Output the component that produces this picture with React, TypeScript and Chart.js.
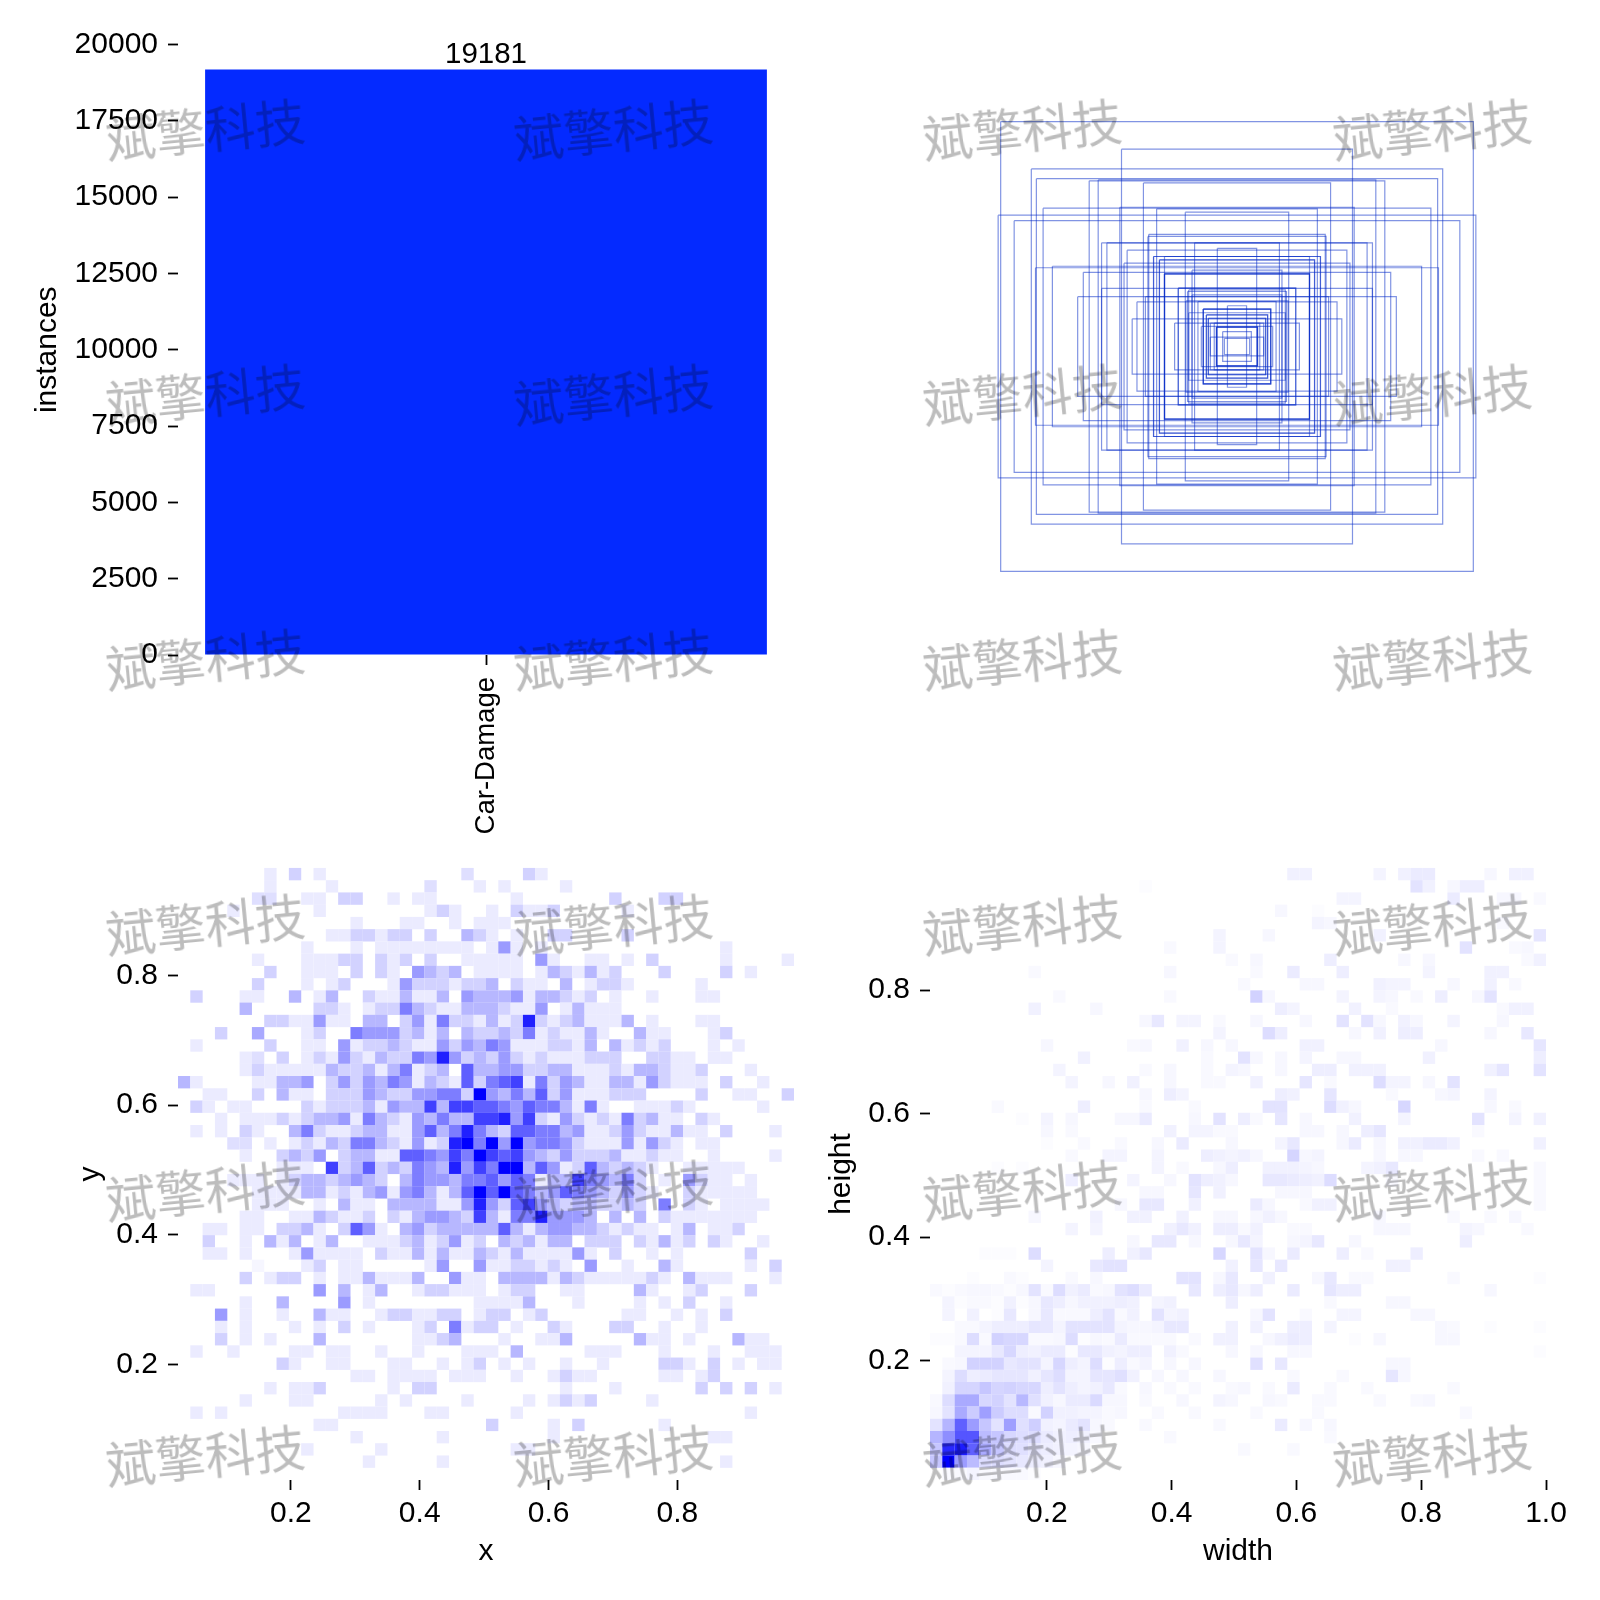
import React, { useEffect, useRef } from "react";
import { Chart, registerables } from "chart.js";

Chart.register(...registerables);

const FONT = "'Liberation Sans', Arial, sans-serif";
const BLUE = "#042AFF";

const classNames = ["Car-Damage"];
const classCounts = [19181];
const countTicks = { min: 0, max: 20000, step: 2500 };

// Box outlines, width and height on the 0-1000 canvas the boxes are drawn on
const boxWidths = [841, 411, 732, 714, 526, 494, 333, 417, 690, 286, 184, 850, 793, 314, 317, 482, 463, 151, 70, 391, 297, 258, 276, 402, 657, 717, 547, 258, 160, 482, 209, 176, 326, 567, 356, 139, 34, 120, 172, 109, 102, 373, 222, 73, 127, 51, 95, 45, 81, 258, 258, 209, 172, 120, 109, 102, 73, 73, 95, 276, 297, 120, 160, 182];
const boxHeights = [740, 649, 584, 552, 545, 548, 538, 458, 455, 453, 442, 432, 414, 369, 362, 341, 341, 341, 323, 317, 296, 296, 285, 274, 264, 259, 244, 239, 251, 191, 192, 181, 164, 164, 147, 148, 134, 123, 111, 104, 93, 91, 77, 64, 66, 49, 31, 27, 77, 239, 239, 192, 186, 123, 104, 93, 64, 64, 77, 285, 296, 123, 170, 150];

const xyTicks = [0.2, 0.4, 0.6, 0.8];
const whXTicks = [0.2, 0.4, 0.6, 0.8, 1.0];
const whYTicks = [0.2, 0.4, 0.6, 0.8];

// Heat rows, top to bottom: "column:level" (level 0..9)
const xyRows = [
  "7:1 9:2 11:1 23:1.5 28:2 29:1",
  "7:1 12:1 20:1.5 24:1 26:1 31:1",
  "6:1.5 7:1.5 10:1 11:1 13:2 14:2 17:1 19:1 20:1 27:1 35:2 39:2 40:2",
  "4:1 11:1 20:1 21:2 22:1 25:1 27:2 28:1 29:1 30:2 36:1",
  "14:1 18:1 19:1 22:1 24:1 25:1 26:1",
  "12:1 13:1 14:2 15:2 16:1 17:2 18:2 20:2 23:3 24:2 25:1 27:1 30:2 31:2 36:2",
  "10:1 14:1 16:1 17:1 18:1 19:1 20:1 21:1 22:1 23:1 25:1 26:4 27:1 29:1 44:1",
  "6:1 10:1 11:1 12:1 13:2 14:2 16:2 17:1 18:2 20:2 23:1 24:1 25:1 26:1 27:1 29:4 30:1 33:1 34:1 36:1 38:2 44:1 49:1",
  "7:2 10:1 11:1 12:1 14:2 16:2 17:1 19:4 20:3 21:2 22:3 24:1 25:1 26:1 27:1 29:1 30:3 31:2 32:1 33:3 34:1 35:2 39:2 44:2 46:1",
  "6:2 10:1 12:1 13:2 17:1 18:4 19:2 20:2 21:2 22:1 23:2 24:2 25:3 27:2 28:1 29:1 31:3 33:1 34:2 35:2 36:1 42:1",
  "1:2 5:1 6:1 9:3 11:1 12:3 15:2 16:1 17:1 18:3 19:1 20:1 21:3 23:4 24:3 25:3 26:3 27:4 28:1 29:3 30:3 31:2 32:1 33:2 35:1 38:1 42:1 43:1",
  "5:3 11:2 12:2 13:1 15:1 16:2 17:2 18:5 19:3 20:2 21:1 22:1 23:3 24:3 25:3 26:2 27:1 28:1 29:4 31:1 32:3 33:1 34:1 35:1",
  "7:2 8:2 9:1 10:1 11:4 12:1 13:1 15:3 16:3 18:2 19:4 20:1 21:5 22:2 23:2 24:1 25:3 26:1 27:2 28:8 29:2 30:1 31:2 32:3 33:1 34:1 35:1 36:3 38:1 42:1 43:1",
  "3:2 6:3.5 10:1 11:2 14:5 15:4 16:4 17:4 18:2 19:3 20:1 21:3 23:3 24:2 25:2 26:3 27:2 28:5 29:1 30:2 31:1 32:1 33:3 34:1 37:3 38:1 39:1 43:1 44:2",
  "1:1 7:2 10:1 11:1 13:4 14:1 15:2 16:2 17:3 18:2 19:1 20:1 21:4 22:2 23:4 24:3 25:5 26:4 27:1 28:1 29:1 30:2 31:2 32:1 33:3 35:3 36:1 37:2 38:1 39:2 43:1 45:1",
  "5:1 6:1.5 8:2 10:1 11:2 12:1 13:4 14:2 15:1 16:3 17:2 18:2 19:5 20:4 21:8 22:4 23:2 24:3 25:2 26:4 27:2 28:1 29:2 30:1 31:1 32:1 33:2 34:2 35:2 38:2 39:2 40:1 41:1 43:1 44:1",
  "5:1 6:2 7:1 8:1 9:1 10:1 11:1 12:3 13:2 14:2 15:3 16:1 17:3 18:5 19:1 20:2 21:3 23:6 24:3 25:3 26:4 27:4 28:2 29:2 30:3 31:3 32:1 33:1 34:1 35:2 36:1 37:3 38:3 39:2 40:1 41:1 42:2 46:1",
  "0:3 1:1 6:1 7:1 8:3 9:3 10:4 12:2 13:4 14:2 15:4 16:3 17:5 18:4 19:1 20:3 21:2 22:1 23:6 24:2 25:5 26:6 27:7 28:1 29:5 30:2 31:4 32:3 33:1 34:1 35:3 36:3 37:1 38:4 39:2 40:1 41:1 42:1 44:2 47:1",
  "2:1 3:1 6:2 8:3 9:1 10:1 12:2 13:2 14:2 15:4 16:3 17:2 18:2 19:4 20:4 21:5 22:5 23:2 24:9 25:4 26:3 27:5 28:3 29:6 30:2 31:4 32:1 33:1 34:1 35:2 36:2 37:2 42:2 45:1 46:1 49:2",
  "1:2 2:1 4:1 5:1 10:2 11:1 12:2 13:2 14:2 15:3 16:1 17:4 18:3 19:3 20:7 21:3 22:7 23:7 24:6 25:6 26:5 27:4 28:6 29:5 30:5 31:3 32:1 33:5 34:1 37:1 38:1 39:1 40:2 41:1 47:1",
  "3:1 5:1 6:1 7:1 8:2 9:1 10:2 11:3 12:3 13:4 14:1 15:5 16:3 17:2 18:1 19:4 20:3 21:5 22:3 23:3 24:7 25:7 26:8 27:4 28:7 29:2 30:1 31:4 32:2 33:1 34:2 35:1 36:5 37:2 38:3 39:1 40:1 42:2 43:1",
  "1:1 3:1 5:2 6:1 9:3 10:5 11:2 12:1 13:1 14:2 15:3 16:3 17:1 18:1 19:4 20:6 21:3 22:5 23:8 24:5 25:3 26:2 27:6 28:6 29:5 30:5 31:3 32:4 33:1 34:1 35:2 36:4 37:2 38:1 39:1 40:3 41:1 42:1 44:2 48:1",
  "4:1.5 5:1.5 7:1 9:1 10:2 11:1 12:3 13:2 14:5 15:5 16:3 17:2 18:1 19:4 20:1 21:2 22:8 23:9 24:5 25:9 26:4 27:9 28:4 29:5 30:5 31:4 32:2 33:1 34:1 35:1 36:4 37:1 38:4 39:2 40:1 42:1 43:1",
  "5:1 8:2 9:3 10:2 11:4 13:2 14:3 15:3 16:1 17:1 18:6 19:6 20:5 21:4 22:7 23:5 24:9 25:7 26:6 27:7 28:4 29:3 30:2 31:4 32:2 33:2 34:2 35:3 36:1 37:1 38:2 39:1 40:1 43:1 48:1",
  "8:1 9:1 10:1 12:7 13:2 14:3 15:6 16:2 17:3 18:2 19:5 20:4 21:3 22:8 23:4 24:7 25:5 26:9 27:9 28:3 29:6 30:4 31:1 32:2 33:6 34:3 35:2 36:3 37:2 38:1 41:1 42:1 43:1 44:1 45:1",
  "4:1 5:1 6:1 8:1 9:2 10:3 11:3 12:2 13:3 14:4 15:3 16:2 18:3 19:5 20:4 21:4 22:3 23:5 24:5 25:6 26:4 27:6 28:5 29:1 30:3 31:3 32:7 33:5 34:4 35:3 36:5 37:2 39:1 41:4 42:2 43:1 44:1 46:1",
  "6:1 7:1 8:1 9:1 10:3 11:3 12:1 13:2 14:1 15:3 16:4 17:1 18:4 19:5 20:3 21:1 22:3 23:6 24:9 25:6 26:9 27:6 28:5 29:3 30:4 31:6 32:5 33:4 34:3 35:2 36:4 37:2 38:1 41:2 42:1 43:1 44:1 45:1 46:1",
  "6:1 7:1 8:1 11:1 13:3 14:1 15:1 17:3 18:3 19:3 20:3 21:1 22:1 23:4 24:8 25:4 26:2 27:6 28:7 29:4 30:3 31:2 32:3 33:3 34:2 35:2 36:3 37:2 39:5 41:2 42:1 44:1 45:1 46:1 47:1",
  "5:1 6:1 9:1 10:1 11:3 12:2 13:1 14:1 15:2 17:2 18:1 19:3 20:4 21:4 22:3 23:2 24:7 25:3 26:1 27:5 28:5 29:8 30:4 31:4 32:4 33:3 35:3 37:3 39:2 40:1 41:1 42:1 43:1 44:1 45:1 46:1",
  "2:1 3:1 5:1 6:1 8:2 9:2 10:3 11:1 13:2 14:6 15:4 16:1 18:3 19:4 20:2 21:3 22:3 23:3 24:3 25:3 26:6 27:3 28:1 29:3 30:4 31:4 32:3 33:3 34:2 35:1 36:2 37:1 38:1 40:1 41:3 43:1 44:1 45:2",
  "2:2 5:1 7:3 8:1 9:3 11:1 12:3 15:1 16:1 17:1 18:2 19:3 20:1 21:2 22:4 23:1 24:2 26:3 27:2 28:3 29:1 30:3 31:3 33:2 34:2 35:2 37:2 38:1 39:3 40:1 41:2 43:2 44:1 47:1",
  "2:1 3:1 5:1 9:1 10:4 11:1 12:1 13:1 14:1 16:2 17:1 18:1 19:3 20:1 21:3 22:1 23:1 24:3 25:2 26:1 27:3 28:1 29:1 30:1 31:1 32:4 33:1 35:2 38:1 40:1 46:2",
  "6:.5 10:1 11:2 13:1 14:1 20:1 21:4 24:4 25:1 26:1 27:2 28:2 29:1 30:2 31:1 33:4 36:1 39:3 40:1 46:1 48:2",
  "5:2 7:1 8:2 9:2 11:1 13:1 14:1 15:3 16:1 17:1 18:1 19:3 22:4 23:1 24:1 26:3 27:3 28:3 29:3 30:1 31:3 32:2 33:1 34:1 35:1 36:1 37:1 38:2 39:1 41:3 42:1 43:1 44:1 48:1",
  "1:1 2:1 11:4 13:3 15:1 16:3 19:1 20:2 21:2 22:1 23:1 24:1 26:1 27:2 28:2 31:1 32:1 37:3 38:1 41:1 42:2 46:2",
  "5:1 8:3 13:4 15:1 24:1 25:1 26:1 27:1 28:3 32:1 37:1 39:1 41:2 44:1",
  "3:4 5:1 8:1 11:3 12:1 13:1 16:1 17:2 18:2 19:1 20:1 21:2 22:2 24:1 25:2 26:2 28:1 29:2 36:1 37:1 40:1 42:1 44:2",
  "3:1 5:1 9:1 11:1 13:2 15:1 19:1 20:2 22:5 23:1 24:2 25:2 27:1 30:2 31:1 35:2 36:2 39:1 42:1",
  "3:2 5:1 7:1 11:3 19:1 20:1 21:2 22:3 26:1 29:1 30:1 31:3 37:3 38:1 39:1 41:1 45:3 46:1 47:1",
  "1:1 4:1 9:1 10:1 12:1 13:1 16:1 19:1 23:1 24:1 25:1 27:3 33:1 34:1 35:1 39:1 43:1 46:1 47:1 48:1",
  "8:2 9:1 12:1 13:1 17:1 18:1 21:1 23:1 24:2 26:1 28:1 31:1 34:1 39:2 40:2 41:1 43:2 45:1 47:1 48:1",
  "14:1 15:1 17:1 18:1 19:1 20:1 22:1 23:1 24:1 27:1 30:1 31:2 32:1 33:1 39:1 40:1 42:1 43:2",
  "7:1 9:1 10:1 11:2 17:1 19:2 20:2 31:1 35:1 42:2 44:2 46:2 48:1",
  "5:1 9:1 10:1 16:1 18:1 23:1 28:1 30:1 31:2 32:1 33:2 38:1",
  "1:1 3:1 13:1 14:1 15:1 16:1 20:1 21:1 27:1 46:1",
  "11:1 12:1 25:2 30:1 32:2 39:1",
  "14:1 21:1 30:1 43:1 44:1",
  "10:1 16:1 27:1 28:1",
  "15:1 21:1 44:1",
  "",
];

const whRows = [
  "29:.5 30:.5 36:.4 38:.5 39:.7 40:.7 45:.3 47:.5 48:.5",
  "17:.1 39:1 40:.5 42:.3 43:.6 44:.6",
  "33:.4 34:.4 42:.7 46:.3 47:.3 49:.2",
  "28:.3 31:.1",
  "31:.4 32:.3 46:.2",
  "23:.4 27:.3 36:.5 49:.9",
  "19:.2 23:.4 43:1 47:.2 48:.3",
  "24:.2 26:.3 32:.6 38:.3 40:.3 48:.2 49:.5",
  "8:.2 19:.3 26:.2 29:.7 33:.6 40:.4 45:.5 46:.5",
  "25:.2 30:.3 31:.3 36:.5 37:.4 38:.4 42:.3 45:.5 47:.2",
  "10:.2 19:.2 26:1.6 27:.3 33:.4 36:.4 37:.3 39:.2 41:.6 44:.3 45:1",
  "8:.5 13:.3 28:.6 29:.4 34:.5 37:.2 46:.2 47:.5 48:.5",
  "17:.3 18:.8 20:.4 21:.4 23:.2 26:.3 30:.3 33:1 35:1 36:.3 38:.5 39:.3 42:.4 46:.3",
  "23:.4 27:1.2 28:.6 34:.3 36:.5 38:.6 39:.6 45:.3 48:.8",
  "9:.3 16:.2 17:.3 20:.5 22:.3 24:.3 30:.5 31:.5 41:.3 49:.9",
  "12:.5 22:.2 25:1 26:.3 28:.3 30:.4 33:.3 34:.3 40:.5 49:.6",
  "10:.4 17:.2 19:.3 22:.2 24:.4 25:.3 28:.3 31:.6 32:.6 34:.5 35:.5 36:.5 45:.5 46:.9 49:1",
  "11:.4 14:.3 16:.5 19:.3 22:.2 23:.2 26:.5 30:.9 32:.2 36:1.2 37:.4 38:.4 40:.3 42:1",
  "17:.3 19:.6 20:.4 28:.6 29:.5 32:.9 37:.2 41:.3 42:.4 45:.4",
  "5:.2 12:.6 17:.2 21:.2 27:1 28:1 32:1.2 33:.5 34:.3 38:1.4 45:.3 47:.2",
  "7:.1 9:.4 11:.3 15:.3 16:.3 17:.7 21:.3 23:1 25:.6 26:.2 28:.9 30:.3 34:.5 38:.4 44:1 47:.4 49:.5",
  "9:.3 11:.2 19:.5 21:.4 22:.4 23:.2 24:.2 30:.3 31:.3 33:.3 35:.6 36:.9 44:.2",
  "9:.1 12:.2 15:.2 18:.3 20:.7 24:.3 28:.4 29:.8 33:.3 34:.7 36:.3 38:.5 39:.5 40:.7 41:.7 42:.5 49:.5",
  "11:.2 14:.4 15:.4 18:.4 22:.6 23:.5 24:.4 25:.5 26:.3 29:1.5 30:.3 31:.4 36:.3 38:.3 39:.3 44:.2 46:.2",
  "5:.1 7:.1 18:.4 20:.2 23:.3 24:.6 27:.5 28:.5 29:.5 30:.4 31:.3 35:.4 36:.5 37:.8 49:.2",
  "11:.6 16:.4 19:.3 21:1 22:.6 23:.5 24:.3 27:.8 28:.8 29:.7 30:.6 31:.5 32:1.2 37:.2 49:.2",
  "17:.3 18:.3 21:.9 23:.5 28:.3 29:.3 30:.3 49:.2",
  "15:.3 17:.8 18:.8 21:.5 26:.7 27:.3 30:.2 31:.5 32:.5 49:.2",
  "8:.3 13:.5 16:.5 17:.5 20:.5 23:.3 24:.3 26:.3 27:.5 28:.3 36:.3 42:.2 45:.2 47:.3",
  "11:.4 13:.4 19:.5 20:.8 21:.5 23:.6 24:.6 25:.2 26:.5 29:.2 30:.2 36:.3 37:.3 38:.3 43:.4 44:.3 48:.2",
  "16:.3 18:.8 19:.8 21:.3 24:.3 25:.8 26:.4 29:.3 30:.4 31:.8 34:.3 43:.6",
  "4:.1 5:.1 6:.1 8:1.2 14:.6 16:.5 17:.8 23:1.4 26:1 27:.3 29:.7 33:.6 35:.2 39:.6",
  "9:.4 13:.8 14:1 15:1 24:.5 26:.9 28:.8 37:.5 38:.5",
  "3:.1 6:.2 7:.1 11:.2 13:.3 20:1 21:1 23:.3 24:.8 27:.5 31:.3 32:.8 34:.2 35:.2 42:.2 49:.1",
  "0:.2 1:.1 2:.2 3:.3 4:.3 5:.2 6:.1 7:.3 8:1 9:.2 10:1.2 11:.5 12:.7 13:.2 14:.3 15:1 16:1.2 17:.7 21:.8 23:.6 24:.8 25:.3 26:.6 29:.7 32:.9 33:.6 34:.6 45:.3",
  "1:.4 2:.1 3:.2 4:.2 5:.1 6:.5 7:.1 8:.3 9:.8 10:.6 11:.3 12:.5 13:.5 14:.5 15:.6 16:.5 18:.4 19:.5 24:.6 32:.2 37:.3 38:.3",
  "1:.4 3:.5 5:.1 6:.8 8:.3 9:.8 10:.2 11:.2 12:.2 13:.6 14:1 15:.2 16:.5 18:1 19:.4 20:.5 26:.3 27:1 30:.2 33:.4 34:.4 39:.3 40:.3",
  "2:.2 3:.2 4:.4 5:.6 6:.6 7:.6 8:.9 9:.8 10:.4 11:1 12:1 13:1 14:1 15:.4 16:.3 17:.3 18:.4 19:.8 20:.8 24:.5 26:.5 29:.6 30:.6 32:.4 41:.3 42:.2 45:.1 49:.1",
  "0:.1 1:.1 2:.2 3:1.2 4:.2 5:1.6 6:1.4 7:1.4 8:.2 9:.2 10:.3 11:1.2 12:.1 13:.3 14:.2 15:.7 16:.2 17:.2 18:.2 19:.2 21:.2 23:.5 24:.5 27:.3 28:.5 29:.7 30:.6 34:.1 36:.3 41:.3 42:.3",
  "2:.4 3:.4 4:.4 5:.8 6:1.4 7:.6 8:.5 9:.7 10:.7 11:.1 12:.8 13:.8 14:.5 15:.4 16:.6 17:.6 19:.5 20:.2 24:.3 26:.3 29:.3 30:.3 49:.1",
  "1:.2 2:.3 3:1.6 4:1.6 5:1.6 6:.8 7:1 8:1 9:.4 10:1.4 11:.6 12:.4 13:1.2 14:.1 15:.6 16:.2 17:.4 19:.3 21:.3 26:1.1 28:.8 37:.3 38:.3",
  "1:.4 2:1.2 3:.6 4:.7 5:.9 6:.9 7:.9 8:.5 9:.9 10:1.2 11:.4 12:.4 13:.9 14:.9 15:1.1 16:.5 18:.3 20:.3 23:.3 29:.2 33:.2 37:.9 38:.3",
  "1:.5 2:1.5 3:1.5 4:2 5:1.5 6:1.6 7:1.4 8:1.4 9:.6 10:1 11:.6 12:.4 13:.5 14:.8 15:.2 17:.3 19:.2 21:.2 24:.2 25:.3 27:.2 29:.7 32:.2 35:.2 42:.2",
  "0:.2 1:1.2 2:3 3:3 4:1.4 5:1.6 6:1 7:2.5 8:1.1 9:.5 10:.3 11:.7 12:.7 13:1.3 14:.3 15:.3 17:.2 20:.3 23:.4 24:.3 27:.3 28:.2 31:.2 32:.2 36:.2 39:.2 40:.3",
  "0:.3 1:1 2:3 3:1.8 4:3.4 5:1.8 6:1.2 7:1.2 8:.2 9:1.6 10:.5 11:.5 12:.4 13:.4 14:.2 15:.3 18:.2 21:.2 26:.2 31:.2 43:.2",
  "0:1 1:2.6 2:5.6 3:3.5 4:2 5:1 6:3.4 7:1.1 8:1.7 9:.5 10:.4 11:.7 12:1 13:.3 14:.2 17:.2 23:.2 28:.7 30:.3 32:.3",
  "0:2.6 1:4 2:6 3:6 4:2.4 5:2 6:1.4 7:1.2 8:1.2 9:.7 10:.5 11:.6 12:.5 13:.2 19:.2 32:.2",
  "0:2 1:7.6 2:8 3:5.6 4:3 5:2 6:1.2 7:1.1 8:.8 9:.6 10:.5 11:.4 12:.3 25:.2 29:.2",
  "0:2 1:9 2:3.5 3:2.4 4:1.2 5:1.2 6:1 7:.8 8:.6 9:.5 10:.3",
  "1:.2 2:.2 3:.4 4:.2 5:.2 6:.2 7:.2 8:.1",
];

const watermarkText = "斌擎科技";
const watermarkXs = [201, 601, 1002, 1403];
const watermarkYs = [124, 384, 644, 904, 1164, 1424];

type Pt = { x: number; y: number };

function axisBase(width?: number, height?: number) {
  return {
    border: { display: false },
    grid: { drawOnChartArea: false, drawTicks: true, tickLength: 10, tickWidth: 1.8, tickColor: "#000", offset: false },
    afterFit: (s: any) => {
      if (width !== undefined) s.width = width;
      if (height !== undefined) s.height = height;
    },
  };
}

function tickFont(size = 30) {
  return { family: FONT, size };
}

function heatCells(rows: string[], xMin: number, xMax: number, yMin: number, yMax: number, gamma: number) {
  const pts: Pt[] = [];
  const colors: string[] = [];
  rows.forEach((row, r) => {
    row.split(" ").filter(Boolean).forEach((tok) => {
      const [c, v] = tok.split(":").map(Number);
      pts.push({
        x: xMin + ((c + 0.5) * (xMax - xMin)) / 50,
        y: yMax - ((r + 0.5) * (yMax - yMin)) / 50,
      });
      const k = Math.round(255 - 255 * Math.pow(v / 9, gamma));
      colors.push(`rgb(${k},${k},255)`);
    });
  });
  return { pts, colors };
}

function heatConfig(
  rows: string[], xr: [number, number], yr: [number, number],
  xt: number[], yt: number[], xTitle: string, yTitle: string,
  yWidth: number, rightPad: number, yTitlePad: number, yTickPad: number, gamma: number
): any {
  const { pts, colors } = heatCells(rows, xr[0], xr[1], yr[0], yr[1], gamma);
  return {
    type: "scatter",
    data: {
      datasets: [{
        data: pts,
        pointStyle: "rect",
        pointRadius: 8.75,
        pointHoverRadius: 8.75,
        pointBorderWidth: 0,
        pointBackgroundColor: colors,
        clip: false,
      }],
    },
    options: {
      animation: false,
      responsive: false,
      events: [],
      layout: { autoPadding: false, padding: { left: 0, right: rightPad, top: 25, bottom: 0 } },
      plugins: { legend: { display: false }, tooltip: { enabled: false } },
      scales: {
        x: {
          ...axisBase(undefined, 120),
          min: xr[0], max: xr[1],
          afterBuildTicks: (s: any) => { s.ticks = xt.map((value) => ({ value })); },
          ticks: { font: tickFont(), color: "#000", padding: 6, maxRotation: 0, callback: (v: any) => Number(v).toFixed(1) },
          title: { display: true, text: xTitle, color: "#000", font: tickFont(), padding: { top: 0, bottom: 30 } },
        },
        y: {
          ...axisBase(yWidth),
          min: yr[0], max: yr[1],
          afterBuildTicks: (s: any) => { s.ticks = yt.map((value) => ({ value })); },
          ticks: { font: tickFont(), color: "#000", padding: yTickPad, callback: (v: any) => Number(v).toFixed(1) },
          title: { display: true, text: yTitle, color: "#000", font: tickFont(), padding: { top: yTitlePad, bottom: 0 } },
        },
      },
    },
  };
}

const barLabelPlugin = {
  id: "barLabel",
  afterDatasetsDraw(chart: any) {
    const meta = chart.getDatasetMeta(0);
    const ctx = chart.ctx;
    ctx.save();
    ctx.font = `29.5px ${FONT}`;
    ctx.fillStyle = "#000";
    ctx.textAlign = "center";
    ctx.textBaseline = "bottom";
    meta.data.forEach((bar: any, i: number) => {
      ctx.fillText(String(classCounts[i]), bar.x, bar.y);
    });
    ctx.restore();
  },
};

function barConfig(): any {
  return {
    type: "bar",
    data: {
      labels: classNames,
      datasets: [{ data: classCounts, backgroundColor: BLUE, barPercentage: 0.912, categoryPercentage: 1 }],
    },
    options: {
      animation: false,
      responsive: false,
      events: [],
      layout: { autoPadding: false, padding: { left: 0, right: 6, top: 44.5, bottom: 0 } },
      plugins: { legend: { display: false }, tooltip: { enabled: false } },
      scales: {
        x: {
          ...axisBase(undefined, 185),
          ticks: { font: tickFont(27.5), color: "#000", padding: 12, minRotation: 90, maxRotation: 90, autoSkip: false },
        },
        y: {
          ...axisBase(178),
          min: countTicks.min, max: countTicks.max,
          ticks: { font: tickFont(), color: "#000", padding: 10, stepSize: countTicks.step, callback: (v: any) => String(v) },
          title: { display: true, text: "instances", color: "#000", font: tickFont(), padding: { top: 30, bottom: 0 } },
        },
      },
    },
    plugins: [barLabelPlugin],
  };
}

function boxConfig(): any {
  const datasets = boxWidths.map((w, i) => {
    const h = boxHeights[i];
    const l = 500 - w / 2, r = 500 + w / 2, t = 500 - h / 2, b = 500 + h / 2;
    return {
      data: [{ x: l, y: t }, { x: r, y: t }, { x: r, y: b }, { x: l, y: b }, { x: l, y: t }],
      showLine: true,
      borderColor: "rgba(4,42,200,0.5)",
      borderWidth: 1.2,
      pointRadius: 0,
      tension: 0,
    };
  });
  return {
    type: "scatter",
    data: { datasets },
    options: {
      animation: false,
      responsive: false,
      events: [],
      layout: { autoPadding: false, padding: { left: 6, right: 32, top: 2.5, bottom: 29.5 } },
      plugins: { legend: { display: false }, tooltip: { enabled: false } },
      scales: {
        x: { display: false, min: 0, max: 1000 },
        y: { display: false, min: 0, max: 1000, reverse: true },
      },
    },
  };
}

function Panel({ left, top, width, height, make }: { left: number; top: number; width: number; height: number; make: () => any }) {
  const ref = useRef<HTMLCanvasElement | null>(null);
  useEffect(() => {
    const chart = new Chart(ref.current as HTMLCanvasElement, make());
    return () => chart.destroy();
  }, []);
  return (
    <canvas
      ref={ref}
      width={width}
      height={height}
      style={{ position: "absolute", left, top, width, height, display: "block" }}
    />
  );
}

export default function App() {
  return (
    <div style={{ position: "absolute", left: 0, top: 0, width: 1600, height: 1600, background: "#fff", overflow: "hidden" }}>
      <Panel left={0} top={0} width={800} height={840} make={barConfig} />
      <Panel left={950} top={40} width={600} height={640} make={boxConfig} />
      <Panel left={0} top={840} width={800} height={760}
        make={() => heatConfig(xyRows, [0.0248, 0.981], [0.0215, 0.966], xyTicks, xyTicks, "x", "y", 178, 6, 73, 10, 1.15)} />
      <Panel left={800} top={840} width={800} height={760}
        make={() => heatConfig(whRows, [0.0128, 1.0], [0.0065, 0.998], whXTicks, whYTicks, "width", "height", 130, 54, 24, 10, 1)} />
      {watermarkYs.flatMap((y) =>
        watermarkXs.map((x) => (
          <div
            key={`${x}-${y}`}
            style={{
              position: "absolute",
              left: x / 0.98,
              top: y / 0.98,
              transform: "translate(-50%, -50%) rotate(-5.5deg)",
              font: "400 50px 'Noto Sans CJK SC', sans-serif",
              color: "#bdbdbd",
              mixBlendMode: "multiply",
              whiteSpace: "nowrap",
              pointerEvents: "none",
            }}
          >
            {watermarkText}
          </div>
        ))
      )}
    </div>
  );
}
